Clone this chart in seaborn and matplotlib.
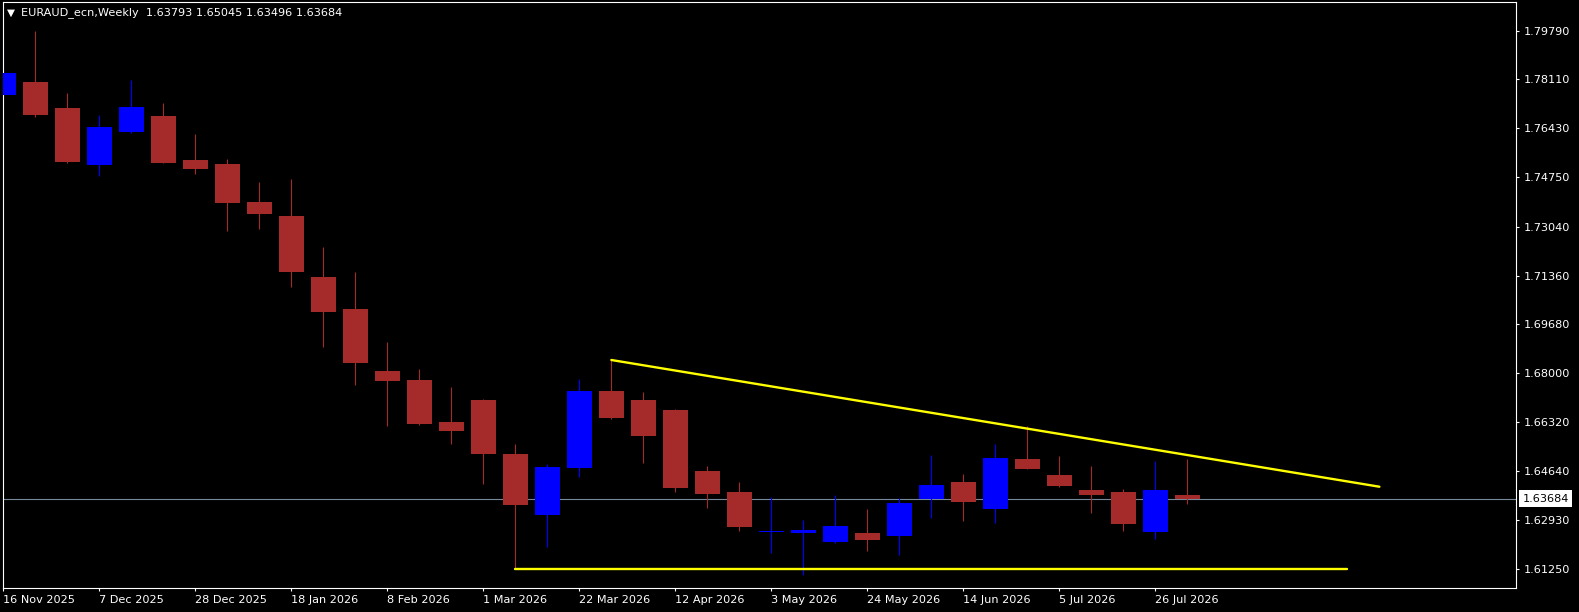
import numpy as np
import pandas as pd
import matplotlib
matplotlib.use("Agg")
import matplotlib.pyplot as plt
import matplotlib.transforms as mtransforms
import seaborn as sns

#%% data (weekly EURAUD candles)
opens = [1.77576, 1.78024, 1.77129, 1.75166, 1.76313, 1.76853, 1.75338, 1.75201,
         1.73892, 1.73410, 1.71310, 1.70208, 1.68074, 1.67764, 1.66318, 1.67075,
         1.65216, 1.63126, 1.64745, 1.67385, 1.67075, 1.66731, 1.64631, 1.63908,
         1.62514, 1.62507, 1.62197, 1.62496, 1.62403, 1.63667, 1.64252, 1.63323,
         1.65044, 1.64493, 1.63977, 1.63908, 1.62541, 1.63793]
highs = [1.79411, 1.79780, 1.77645, 1.76888, 1.78093, 1.77301, 1.76234, 1.75373,
         1.74581, 1.74684, 1.72343, 1.71482, 1.69072, 1.68143, 1.67523, 1.67110,
         1.65561, 1.64872, 1.67798, 1.68453, 1.67351, 1.66755, 1.64803, 1.64252,
         1.63725, 1.62944, 1.63794, 1.63323, 1.63691, 1.65182, 1.64528, 1.65561,
         1.66180, 1.65147, 1.64803, 1.64011, 1.64975, 1.65045]
lows = [1.77404, 1.76829, 1.75235, 1.74798, 1.76258, 1.75218, 1.74867, 1.72904,
        1.72973, 1.70976, 1.68910, 1.67602, 1.66191, 1.66215, 1.65571, 1.64194,
        1.61260, 1.62004, 1.64435, 1.66421, 1.64917, 1.63918, 1.63367, 1.62576,
        1.61818, 1.61061, 1.62162, 1.61887, 1.61739, 1.63023, 1.62920, 1.62841,
        1.64683, 1.64090, 1.63195, 1.62576, 1.62300, 1.63496]
closes = [1.78334, 1.76888, 1.75270, 1.76475, 1.77163, 1.75235, 1.75029, 1.73858,
          1.73490, 1.71493, 1.70116, 1.68360, 1.67740, 1.66259, 1.66018, 1.65227,
          1.63471, 1.64769, 1.67385, 1.66466, 1.65846, 1.64056, 1.63849, 1.62703,
          1.62565, 1.62600, 1.62737, 1.62266, 1.63529, 1.64149, 1.63574, 1.65079,
          1.64700, 1.64125, 1.63805, 1.62817, 1.63977, 1.63684]

date_labels = ["16 Nov 2025", "7 Dec 2025", "28 Dec 2025", "18 Jan 2026", "8 Feb 2026",
               "1 Mar 2026", "22 Mar 2026", "12 Apr 2026", "3 May 2026", "24 May 2026",
               "14 Jun 2026", "5 Jul 2026", "26 Jul 2026"]
price_ticks = [1.79790, 1.78110, 1.76430, 1.74750, 1.73040, 1.71360, 1.69680,
               1.68000, 1.66320, 1.64640, 1.62930, 1.61250]

# trend lines (bar index, price)
resist_x = [19, 43]
resist_y = [1.68453, 1.64090]
support_x = [16, 42]
support_y = [1.61260, 1.61260]

title = "EURAUD_ecn,Weekly  1.63793 1.65045 1.63496 1.63684"

#%% frame
df = pd.DataFrame({"open": opens, "high": highs, "low": lows, "close": closes})
df["idx"] = np.arange(len(df))
df["bull"] = df["close"] >= df["open"]
df["color"] = np.where(df["bull"], "#0000FF", "#A52A2A")
df["bottom"] = df[["open", "close"]].min(axis=1)
df["height"] = (df["close"] - df["open"]).abs().clip(lower=0.0004)

#%% plot
sns.set_theme(style="dark", rc={"axes.facecolor": "black", "figure.facecolor": "black",
                                "axes.edgecolor": "white", "text.color": "white",
                                "xtick.color": "white", "ytick.color": "white"})
plt.rcParams["font.family"] = ["DejaVu Sans"]

W, H = 1579, 612
fig = plt.figure(figsize=(W / 100, H / 100), dpi=100)
ax = fig.add_axes([3 / W, 1 - 588 / H, (1515.7 - 3) / W, (588 - 2) / H])
ax.set_facecolor("black")

last_close = closes[-1]
ax.axhline(last_close, color="#778899", lw=0.8, zorder=1)

ax.vlines(df["idx"], df["low"], df["high"], colors=df["color"], lw=0.8, zorder=2)
ax.bar(df["idx"], df["height"], bottom=df["bottom"], width=0.78,
       color=df["color"], linewidth=0, zorder=3)

sns.lineplot(x=resist_x, y=resist_y, ax=ax, color="#FFFF00", lw=1.7, legend=False, zorder=4)
sns.lineplot(x=support_x, y=support_y, ax=ax, color="#FFFF00", lw=1.7, legend=False, zorder=4)

ax.set_xlim(-0.01, 47.26)
ax.set_ylim(1.60603, 1.80778)

ax.set_xticks(np.arange(0, len(date_labels) * 3, 3))
ax.set_xticklabels(date_labels, ha="left", fontsize=8.1)
ax.set_yticks(price_ticks)
ax.set_yticklabels([f"{p:.5f}" for p in price_ticks], fontsize=8.1)
ax.yaxis.tick_right()
ax.tick_params(axis="y", which="both", left=False, right=True, labelleft=False,
               labelright=True, length=2.5, width=0.8, pad=3.5, colors="white")
ax.tick_params(axis="x", which="both", bottom=True, length=2.5, width=0.8, pad=2.5,
               colors="white")
ax.set_xlabel("")
ax.set_ylabel("")
ax.grid(False)
for s in ax.spines.values():
    s.set_color("white")
    s.set_linewidth(0.8)

# current price box
trans = mtransforms.blended_transform_factory(ax.transAxes, ax.transData)
ax.annotate(f"{last_close:.5f}", xy=(1, last_close), xycoords=trans,
            xytext=(7, 0), textcoords="offset pixels", ha="left", va="center",
            fontsize=8.1, color="black", annotation_clip=False,
            bbox=dict(boxstyle="square,pad=0.3", fc="white", ec="none"))

# header
fig.text(7 / W, 1 - 13 / H, "\u25BC", fontsize=7.5, color="white", ha="left", va="center")
fig.text(21 / W, 1 - 13 / H, title, fontsize=8.1, color="white", ha="left", va="center")

fig.savefig("out.png", dpi=100, facecolor="black")
